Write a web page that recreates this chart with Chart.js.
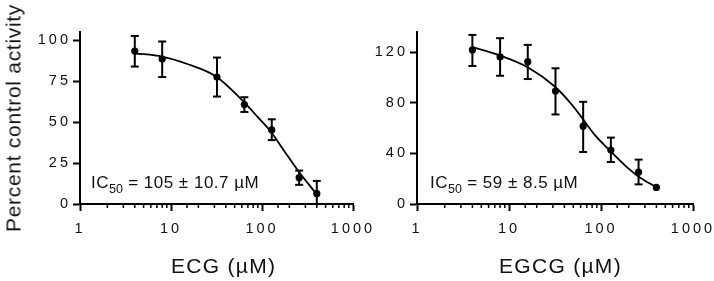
<!DOCTYPE html>
<html>
<head>
<meta charset="utf-8">
<script src="https://cdn.jsdelivr.net/npm/chart.js@4.4.1/dist/chart.umd.min.js"></script>
<style>
  body { margin: 0; background: #fff; }
  #wrap { position: relative; width: 714px; height: 281px; overflow: hidden;
          font-family: 'Liberation Sans', Arial, sans-serif; color: #111; }
  canvas { position: absolute; top: 0; }
  #ecgChart { left: 0; }
  #egcgChart { left: 357px; }
  .lbl { position: absolute; white-space: nowrap; line-height: 1; }
  .ytitle { left: 13px; top: 118px; font-size: 21px; letter-spacing: 0.7px;
            transform: translate(-50%, -50%) rotate(-90deg); }
  .xtitle { top: 254.5px; font-size: 21px; letter-spacing: 1.3px; }
  .ic { top: 173.5px; font-size: 17px; letter-spacing: 0.5px; }
  .ic span { font-size: 12.5px; position: relative; top: 5px; letter-spacing: 0; }
</style>
</head>
<body>
<div id="wrap">
  <canvas id="ecgChart" width="400" height="281"></canvas>
  <canvas id="egcgChart" width="357" height="281"></canvas>
  <div class="lbl ytitle">Percent control activity</div>
  <div class="lbl xtitle" style="left:171px">ECG (µM)</div>
  <div class="lbl xtitle" style="left:499px">EGCG (µM)</div>
  <div class="lbl ic" style="left:91px">IC<span>50</span> = 105 ± 10.7 µM</div>
  <div class="lbl ic" style="left:430px">IC<span>50</span> = 59 ± 8.5 µM</div>
</div>
<script>
// ECG - 측정값 (mean, 오차 상/하한)
const ecgConc = [4, 8, 32, 64, 128, 256, 400];
const ecgMean = [93.4, 88.5, 77.5, 60.7, 45.2, 16.1, 6.3];
const ecgHigh = [102.6, 99.2, 89.4, 65.2, 51.7, 20.4, 14.1];
const ecgLow  = [83.9, 77.5, 65.6, 56.2, 39.0, 11.7, 0];
// ECG - fit 곡선
const ecgFitX = [4, 8, 15.4, 31.5, 62, 90, 124, 177, 248, 404];
const ecgFitY = [92.0, 90.0, 85.3, 77.7, 62.8, 53.0, 44.4, 32.1, 20.5, 5.5];

// EGCG
const egcgConc = [4, 8, 16, 32, 64, 128, 256, 400];
const egcgMean = [121.8, 116.3, 112.5, 89.3, 61.5, 42.7, 25.2, 13.1];
const egcgHigh = [133.7, 131.1, 125.8, 107.3, 80.8, 52.5, 35.1, null];
const egcgLow  = [109.1, 101.4, 98.8, 70.8, 41.1, 33.2, 15.5, null];
const egcgFitX = [4, 7.7, 16.3, 31.7, 48, 63, 86, 124, 182, 255, 400];
const egcgFitY = [124, 117.9, 107.8, 92.7, 78.7, 67.6, 54.4, 42.5, 30.6, 21.8, 13.3];

// 축 설정값
const xTicksShown = [1, 10, 100, 1000];
const ecgYMax = 105, ecgYStep = 25;
const egcgYMax = 136, egcgYStep = 40;

const FONT = "'Liberation Sans', Arial, sans-serif";

function isDecade(v) {
  if (!v) return false;
  var l = Math.log10(v);
  return Math.abs(l - Math.round(l)) < 1e-9;
}

// tick 라벨 자간
const spacing = {
  id: 'spacing',
  beforeDraw: function (chart) { chart.ctx.letterSpacing = '3px'; }
};

// 로그축 보조 눈금 (짧게)
const minorTicks = {
  id: 'minorTicks',
  afterDraw: function (chart) {
    var sx = chart.scales.x, ctx = chart.ctx;
    ctx.save();
    ctx.strokeStyle = '#000';
    ctx.lineWidth = 1.5;
    sx.ticks.forEach(function (t) {
      if (isDecade(t.value)) return;
      var px = sx.getPixelForValue(t.value);
      ctx.beginPath();
      ctx.moveTo(px, sx.top);
      ctx.lineTo(px, sx.top + 4);
      ctx.stroke();
    });
    ctx.restore();
  }
};

function buildDatasets(conc, mean, high, low, fitX, fitY) {
  var sets = [];
  // 점
  sets.push({
    data: conc.map(function (c, i) { return { x: c, y: mean[i] }; }),
    pointRadius: 3.6, pointBackgroundColor: '#000', pointBorderColor: '#000', pointBorderWidth: 0
  });
  // 오차 막대 캡
  var caps = [];
  conc.forEach(function (c, i) {
    if (high[i] == null) return;
    caps.push({ x: c, y: high[i] });
    caps.push({ x: c, y: low[i] });
  });
  sets.push({
    data: caps, pointStyle: 'line', pointRadius: 4,
    pointBorderColor: '#000', pointBorderWidth: 2
  });
  // 오차 막대 세로선
  conc.forEach(function (c, i) {
    if (high[i] == null) return;
    sets.push({
      data: [{ x: c, y: low[i] }, { x: c, y: high[i] }],
      showLine: true, borderColor: '#000', borderWidth: 2, pointRadius: 0
    });
  });
  // fit 곡선
  sets.push({
    data: fitX.map(function (x, i) { return { x: x, y: fitY[i] }; }),
    showLine: true, borderColor: '#000', borderWidth: 1.8, pointRadius: 0,
    cubicInterpolationMode: 'monotone'
  });
  return sets;
}

function makeChart(id, datasets, yMax, yStep, yWidth, padRight) {
  var ctx = document.getElementById(id).getContext('2d');
  return new Chart(ctx, {
    type: 'scatter',
    data: { datasets: datasets },
    plugins: [spacing, minorTicks],
    options: {
      responsive: false,
      animation: false,
      layout: { padding: { top: 32, right: padRight, left: 0, bottom: 0 } },
      plugins: { legend: { display: false }, tooltip: { enabled: false } },
      scales: {
        x: {
          type: 'logarithmic', position: 'bottom', min: 1, max: 1000,
          border: { color: '#000', width: 2 },
          grid: {
            drawOnChartArea: false, tickLength: 7, tickWidth: 2,
            tickColor: function (c) { return c.tick && isDecade(c.tick.value) ? '#000' : 'rgba(0,0,0,0)'; }
          },
          ticks: {
            autoSkip: false, maxRotation: 0, padding: 9, color: '#111',
            font: { size: 14.5, family: FONT },
            callback: function (v) { return xTicksShown.indexOf(v) >= 0 ? String(v) : ''; }
          },
          afterFit: function (s) { s.height = 77; s.paddingLeft = 0; s.paddingRight = 0; }
        },
        y: {
          min: 0, max: yMax,
          border: { color: '#000', width: 2 },
          grid: { drawOnChartArea: false, tickLength: 7, tickWidth: 2, tickColor: '#000' },
          ticks: {
            stepSize: yStep, includeBounds: false, padding: 2, color: '#111',
            font: { size: 14.5, family: FONT }
          },
          afterFit: function (s) { s.width = yWidth; s.paddingTop = 0; s.paddingBottom = 0; }
        }
      }
    }
  });
}

makeChart('ecgChart', buildDatasets(ecgConc, ecgMean, ecgHigh, ecgLow, ecgFitX, ecgFitY),
  ecgYMax, ecgYStep, 80, 47);
makeChart('egcgChart', buildDatasets(egcgConc, egcgMean, egcgHigh, egcgLow, egcgFitX, egcgFitY),
  egcgYMax, egcgYStep, 60, 21);
</script>
</body>
</html>
